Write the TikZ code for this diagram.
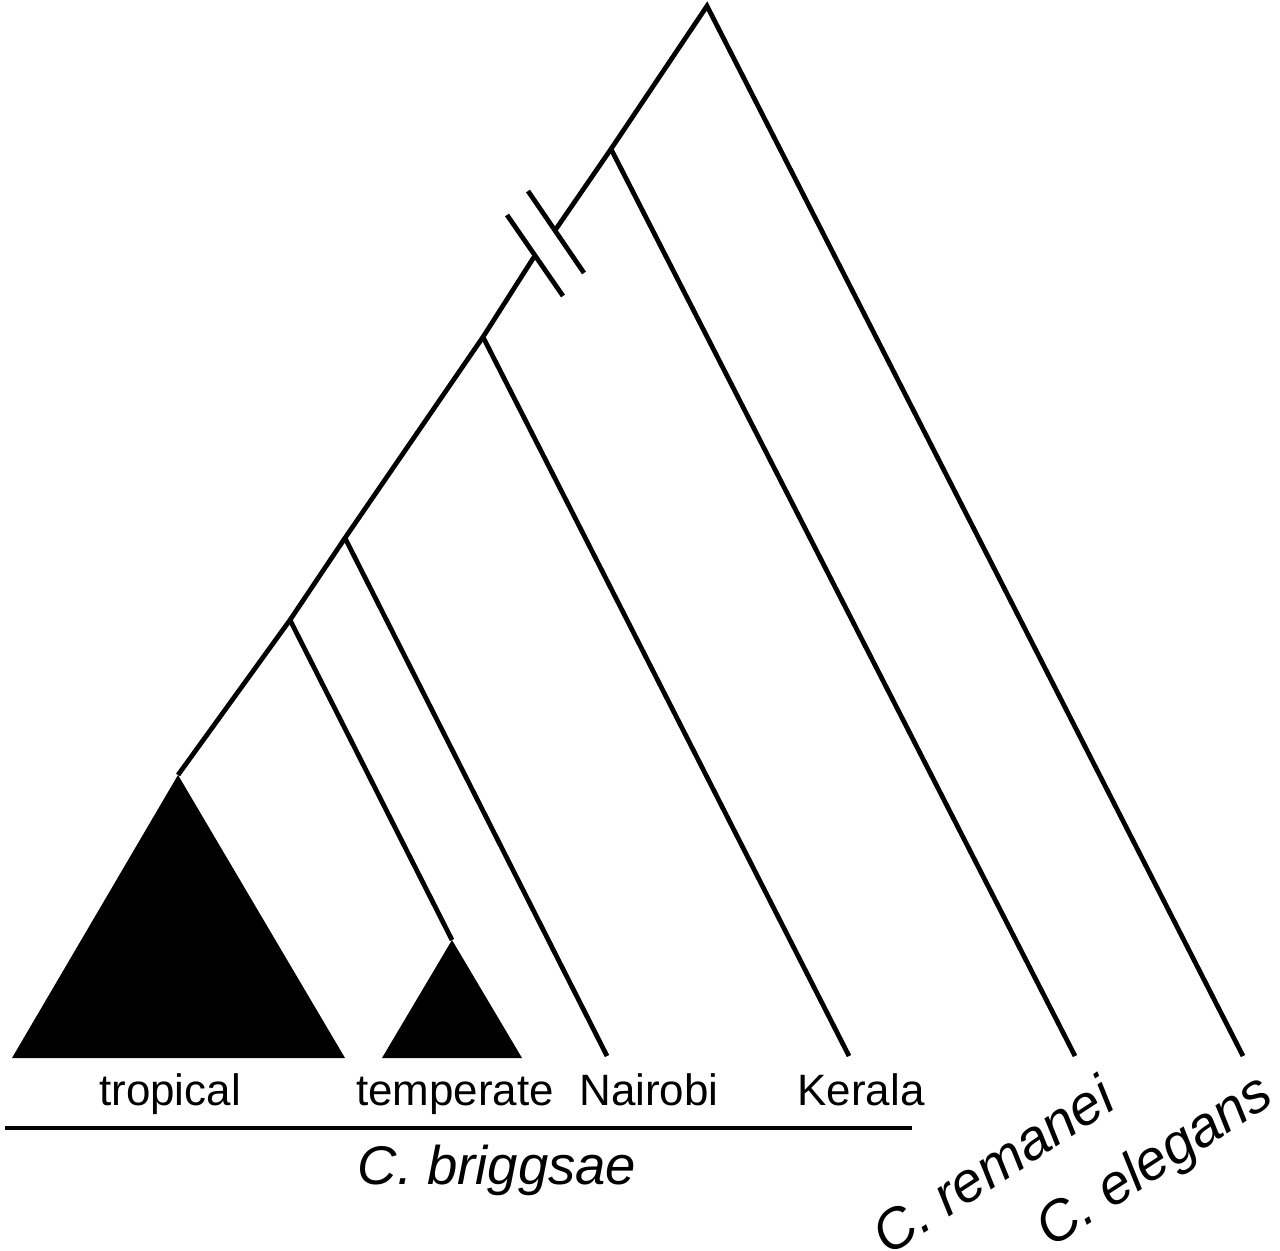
\documentclass[tikz,border=0pt]{standalone}
\usepackage{fontspec}
\setmainfont{Liberation Sans}
\begin{document}
\begin{tikzpicture}[x=0.02cm,y=-0.02cm,line width=0.095cm,
	lab/.style={font=\fontsize{25}{30}\selectfont,anchor=base,inner sep=0pt},
	species/.style={font=\fontsize{32}{38}\selectfont\itshape,inner sep=0pt}]
\useasboundingbox (0,0) rectangle (1280,1250);
% inner nodes of the tree
\coordinate (root) at (707,6);
\coordinate (nrem) at (611,149);
\coordinate (brkup) at (556,229);
\coordinate (brklo) at (534,257);
\coordinate (nker) at (483,337);
\coordinate (nnai) at (345,538);
\coordinate (ntem) at (290,620);
\coordinate (trop) at (178,775);
\coordinate (temp) at (452,940);
% leaves
\coordinate (elegans) at (1243,1056);
\coordinate (remanei) at (1075,1056);
\coordinate (kerala) at (849,1056);
\coordinate (nairobi) at (607,1056);
\draw[line join=miter] (nrem) -- (root) -- (elegans);
\draw (nrem) -- (brkup);
\draw (brklo) -- (nker) -- (nnai) -- (ntem) -- (trop);
\draw (nrem) -- (remanei);
\draw (nker) -- (kerala);
\draw (nnai) -- (nairobi);
\draw (ntem) -- (temp);
% break marks
\draw (507,215) -- (563,296);
\draw (528,191) -- (584,273);
% collapsed clades
\fill (trop) -- (12,1058) -- (345,1058) -- cycle;
\fill (temp) -- (382,1058) -- (522,1058) -- cycle;
\node[lab] (ltrop) at (170,1105) {tropical};
\node[lab] (ltemp) at (455,1105) {temperate};
\node[lab] (lnai) at (649,1105) {Nairobi};
\node[lab] (lker) at (861,1105) {Kerala};
\draw (5,1128) -- (912,1128);
\node[species,anchor=base,font=\fontsize{31}{37}\selectfont\itshape] (lbrig) at (497,1184) {C. briggsae};
\node[species,anchor=base west,rotate=33] (lrem) at (886,1258) {C. remanei};
\node[species,anchor=base west,rotate=33] (lele) at (1049,1250) {C. elegans};
\end{tikzpicture}
\end{document}
